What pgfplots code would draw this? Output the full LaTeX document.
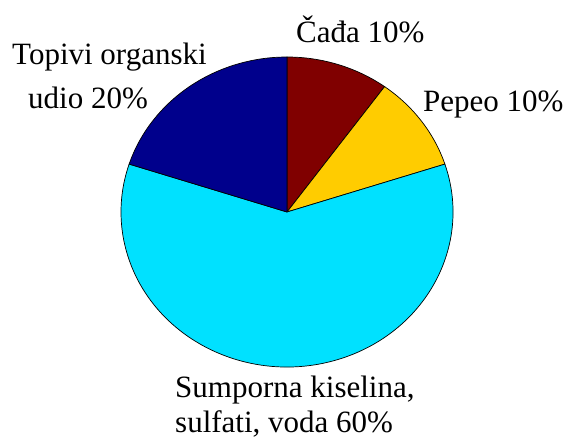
\documentclass[border=0pt]{standalone}
\usepackage{fontspec}
\setmainfont{Liberation Serif}
\usepackage{pgfplots}
\usepackage{pgfplotstable}
\pgfplotsset{compat=1.18}
\definecolor{sootred}{RGB}{128,0,0}
\definecolor{ashgold}{RGB}{255,204,0}
\definecolor{acidcyan}{RGB}{0,225,255}
\definecolor{orgnavy}{RGB}{0,0,140}

% shares in percent, clockwise from 12 o'clock
\pgfplotstableread{
share col
10 sootred
10 ashgold
60 acidcyan
20 orgnavy
}\piedata

\begin{document}
\begin{tikzpicture}
\begin{axis}[
  width=567bp, height=441bp, scale only axis,
  hide axis, clip=false,
  xmin=0, xmax=567, ymin=0, ymax=441, y dir=reverse,
]
% keep the full frame as bounding box
\path (axis cs:0,0) rectangle (axis cs:567,441);
\pgfplotsextra{
  \pgfplotstablegetrowsof{\piedata}
  \pgfmathtruncatemacro\nrows{\pgfplotsretval-1}
  \xdef\acc{0}
  \foreach \i in {0,...,\nrows}{
    \pgfplotstablegetelem{\i}{share}\of\piedata \let\v\pgfplotsretval
    \pgfplotstablegetelem{\i}{col}\of\piedata \let\c\pgfplotsretval
    \pgfmathsetmacro\a{90-3.6*\acc}
    \pgfmathsetmacro\b{90-3.6*(\acc+\v)}
    \fill[fill=\c, draw=black, line width=0.7bp]
      (axis cs:287,212) -- +(\a:166bp and 155bp)
      arc[start angle=\a, end angle=\b, x radius=166bp, y radius=155bp] -- cycle;
    \pgfmathparse{\acc+\v}\xdef\acc{\pgfmathresult}
  }
}
\tikzset{lbl/.style={anchor=base west, inner sep=0pt, font=\fontsize{31bp}{37bp}\selectfont}}
\node[lbl] at (axis cs:12,65) {Topivi organski};
\node[lbl] at (axis cs:28,108) {udio 20\%};
\node[lbl] at (axis cs:296,43) {Čađa 10\%};
\node[lbl] at (axis cs:423,111) {Pepeo 10\%};
\node[lbl] at (axis cs:175,397) {Sumporna kiselina,};
\node[lbl] at (axis cs:175,432) {sulfati, voda 60\%};
\end{axis}
\end{tikzpicture}
\end{document}
